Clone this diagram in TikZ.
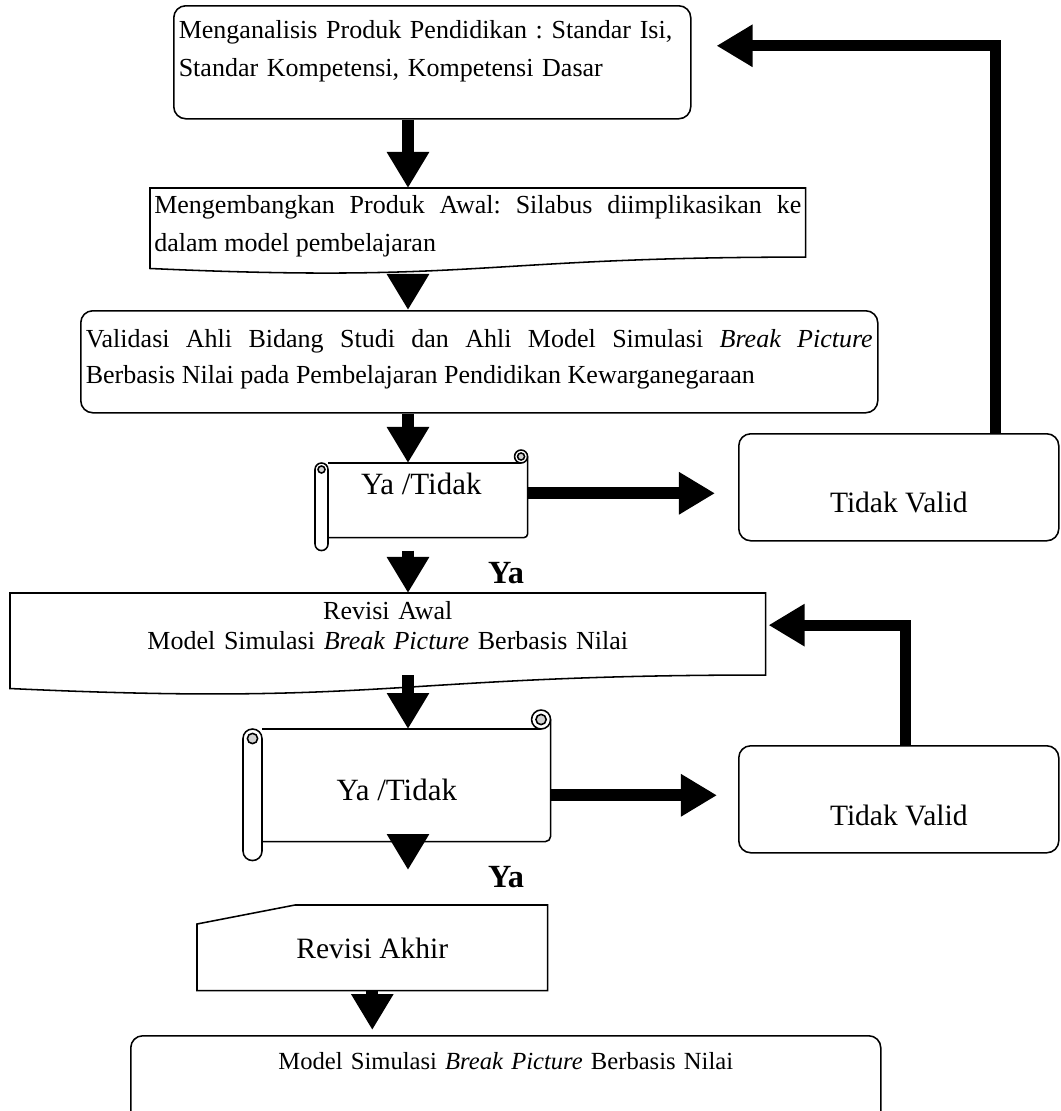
\documentclass[tikz,border=0pt]{standalone}
\usepackage{fontspec}
\setmainfont{Liberation Serif}
\usetikzlibrary{arrows.meta, positioning, calc}
\frenchspacing
\newlength{\dpx}
\setlength{\dpx}{0.025cm}
\newcommand{\bodyfont}{\fontsize{18.5pt}{27pt}\selectfont}
\newcommand{\bigfont}{\fontsize{21pt}{25pt}\selectfont}
\tikzset{
  outline/.style={draw=black,line width=1.1pt},
  plainbox/.style={rectangle,anchor=north west,inner xsep=5\dpx,inner ysep=5\dpx,font=\bodyfont},
  roundbox/.style={plainbox,outline,rounded corners=12\dpx},
  decision/.style={rectangle,anchor=north west,inner sep=5\dpx,align=center,font=\bigfont},
  yatidak/.style={decision,font=\fontsize{22pt}{26pt}\selectfont},
  yalabel/.style={font=\fontsize{23pt}{26pt}\selectfont\bfseries,inner sep=0pt},
  bigarrow/.style={line width=0.3cm,-{Triangle[width=1cm,length=0.9cm]}},
  backarrow/.style={bigarrow,line width=0.275cm},
}
\newcommand{\docshape}[1]{%
  \draw[outline] (#1.north west) -- (#1.north east) -- ($(#1.north east)!0.802!(#1.south east)$)
    .. controls ($(#1.north)!0.802!(#1.south)$) and ($(#1.north)!1.107!(#1.south)$) .. ($(#1.north west)!0.934!(#1.south west)$) -- cycle;
}
\newcommand{\scrollshape}[2]{%
  \pgfmathsetlengthmacro{\rollr}{#2*0.5*0.025cm}%
  \pgfmathsetlengthmacro{\curlr}{#2*0.27*0.025cm}%
  \draw[outline] ($(#1.north west)+(#2,#2)$) -- ($(#1.north east)+(-#2/2,#2)$);
  \draw[outline,rounded corners=\curlr] ($(#1.north east)+(0,#2/2)$) -- ($(#1.south east)+(0,-#2)$) -- ($(#1.south west)+(#2,-#2)$);
  \draw[outline,rounded corners=\rollr] ($(#1.north west)+(0,#2)$) rectangle ($(#1.south west)+(#2,0)$);
  \draw[outline] ($(#1.north east)+(-#2/2,#2/2)$) circle[radius=\rollr];
  \draw[outline,fill=gray!35] ($(#1.north east)+(-#2/2,#2/2)$) circle[radius=\curlr];
  \draw[outline,fill=gray!35] ($(#1.north west)+(#2/2,#2*1.5)$) circle[radius=\curlr];
}

\begin{document}
\begin{tikzpicture}[x=0.025cm,y=-0.025cm]
	\useasboundingbox (0,0) rectangle (1060,1111);
	\coordinate (spine) at (408,0);
	\node[roundbox,align=left,minimum width=517\dpx,minimum height=113\dpx,text width=507\dpx,text height=28\dpx,text depth=75\dpx] (analisis) at (173,5) {Menganalisis Produk Pendidikan : Standar Isi,\\Standar Kompetensi, Kompetensi Dasar};
	\node[plainbox,align=justify,text width=647\dpx,text height=20\dpx,text depth=55.6\dpx,inner xsep=4\dpx] (awal) at (150,188) {Mengembangkan Produk Awal: Silabus diimplikasikan ke\linebreak dalam model pembelajaran};
	\docshape{awal}
	\node[roundbox,align=justify,font={\fontsize{18.5pt}{25.6pt}\selectfont},text width=787\dpx,text height=32\dpx,text depth=60\dpx] (validasi) at (80,310) {Validasi Ahli Bidang Studi dan Ahli Model Simulasi \textit{Break Picture}\linebreak Berbasis Nilai pada Pembelajaran Pendidikan Kewarganegaraan};
	\node[yatidak,minimum width=212\dpx,minimum height=100\dpx,text height=20\dpx,text depth=32\dpx] (ya1) at (315,450) {Ya /Tidak};
	\scrollshape{ya1}{13}
	\node[roundbox,decision,minimum width=320\dpx,minimum height=107\dpx,text height=55\dpx,text depth=4\dpx] (tv1) at (738,433) {Tidak Valid};
	\node[yalabel] (yes1) at (506,573) {Ya};
	\node[plainbox,align=center,font={\fontsize{18.5pt}{21.3pt}\selectfont},text width=745\dpx,text height=21\dpx,text depth=70.7\dpx] (revawal) at (10,593) {Revisi Awal\\Model Simulasi \textit{Break Picture} Berbasis Nilai};
	\docshape{revawal}
	\node[yatidak,minimum width=307\dpx,minimum height=150\dpx,text height=36\dpx,text depth=6\dpx] (ya2) at (243,710) {Ya /Tidak};
	\scrollshape{ya2}{19}
	\node[roundbox,decision,minimum width=320\dpx,minimum height=107\dpx,text height=57\dpx,text depth=4\dpx] (tv2) at (738,745) {Tidak Valid};
	\node[yalabel] (yes2) at (506,877) {Ya};
	\node[decision,minimum width=350\dpx,minimum height=85\dpx,text height=25\dpx,text depth=4\dpx] (revakhir) at (197,905) {Revisi Akhir};
	\draw[outline] (revakhir.south west) -- ($(revakhir.north west)+(0,19)$) -- ($(revakhir.north west)+(98,0)$) -- (revakhir.north east) -- (revakhir.south east) -- cycle;
	\node[roundbox,align=center,font={\fontsize{17.5pt}{21pt}\selectfont},minimum width=750\dpx,text width=740\dpx,text height=29\dpx,text depth=51\dpx] (final) at (130,1035) {Model Simulasi \textit{Break Picture} Berbasis Nilai\hspace*{20\dpx}};
	\coordinate (rawout) at ($(revawal.south -| spine)+(0,-20)$);
	\coordinate (ya2down) at ($(ya2.south -| spine)+(0,-26)$);
	\coordinate (ya2tip) at ($(revakhir.north -| spine)+(0,-35)$);
	\draw[bigarrow] (analisis.south -| spine) -- (awal.north -| spine);
	\draw[bigarrow] (awal.south -| spine) -- (validasi.north -| spine);
	\draw[bigarrow,shorten >=-0.325cm] (validasi.south -| spine) -- (ya1.north -| spine);
	\draw[bigarrow] (ya1.south -| spine) -- (revawal.north -| spine);
	\draw[bigarrow,shorten >=-0.475cm] (rawout) -- (ya2.north -| spine);
	\draw[bigarrow] (ya2down) -- (ya2tip);
	\draw[bigarrow,shorten >=0.125cm] (revakhir.south) -- (final.north -| revakhir.south);
	\coordinate (ya1out) at ($(ya1.east)+(0,-7)$);
	\coordinate (ya2out) at ($(ya2.east)+(0,10)$);
	\draw[bigarrow,shorten >=0.575cm] (ya1out) -- (ya1out -| tv1.west);
	\draw[bigarrow,shorten >=0.525cm] (ya2out) -- (ya2out -| tv2.west);
	\coordinate (tv1up) at ($(tv1.north)+(97,0)$);
	\coordinate (backone) at ($(analisis.east)+(0,-16.5)$);
	\draw[backarrow,shorten >=0.625cm] (tv1up) |- (backone);
	\coordinate (tv2up) at ($(tv2.north)+(7,0)$);
	\coordinate (backtwo) at ($(revawal.east)+(0,-19)$);
	\draw[backarrow,shorten >=0.075cm] (tv2up) |- (backtwo);
\end{tikzpicture}
\end{document}
